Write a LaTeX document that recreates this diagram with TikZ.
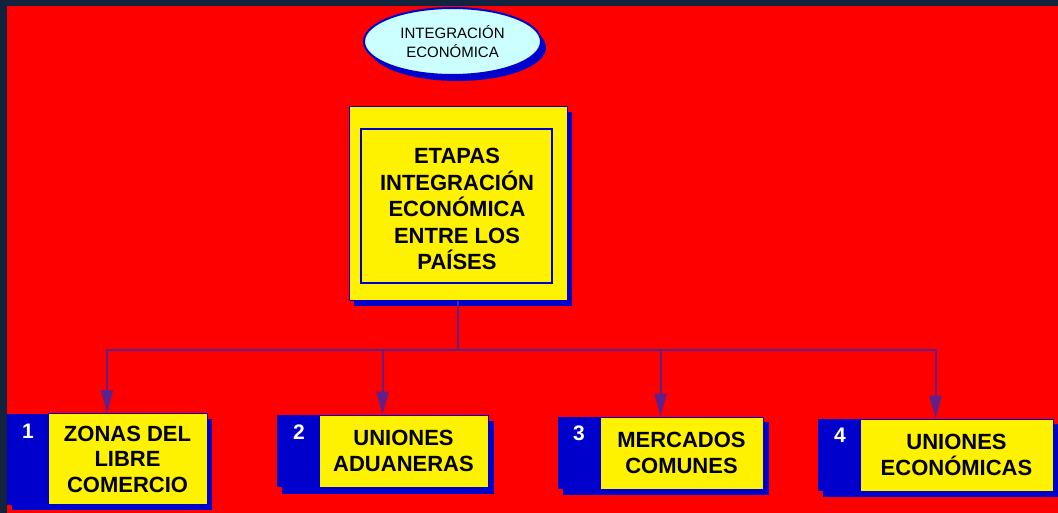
\documentclass[tikz,border=0pt]{standalone}
\usepackage{fontspec}
\setmainfont{Liberation Sans}
\usetikzlibrary{arrows.meta, shapes.geometric}

\definecolor{frame}{RGB}{19,35,62}
\definecolor{boxblue}{RGB}{0,0,204}
\definecolor{lightcyan}{RGB}{204,255,255}
\definecolor{linkpurple}{RGB}{96,32,140}

\tikzset{
    yellowbox/.style={draw=boxblue, line width=1pt, fill=yellow, inner sep=0pt, align=center, font=\bfseries\fontsize{22}{25.5}\selectfont},
    tabbox/.style={fill=boxblue, inner sep=0pt},
    numlabel/.style={text=white, font=\bfseries\fontsize{21}{25}\selectfont},
    link/.style={linkpurple, line width=2pt, -{Triangle[length=23pt, width=12pt]}}
}

\begin{document}
\begin{tikzpicture}[thick, x=1pt, y=-1pt]
    \useasboundingbox (0,0) rectangle (1058,513);
    \fill[frame] (0,0) rectangle (1058,513); % border
    \fill[red] (7,6) rectangle (1058,513); % background

    \coordinate (E) at (452.5,41.5);
    \coordinate (M) at (458,203.5);
    \coordinate (bus) at (458,350);

    % top ellipse
    \fill[boxblue] (457.5,47.5) ellipse (88.5 and 33.5); % shadow
    \node[ellipse, draw=boxblue, line width=2pt, fill=lightcyan, minimum width=177, minimum height=67, inner sep=0pt, align=center, font=\fontsize{15}{19.5}\selectfont] (integ) at (E) {INTEGRACIÓN\\ECONÓMICA};

    % main box
    \fill[boxblue] (354,112) rectangle (572,306); % shadow
    \node[yellowbox, minimum width=218, minimum height=193] (etapas) at (M) {};
    \draw[boxblue, line width=1.2pt] (361,129) rectangle (552,283); % inner frame
    \node[align=center, font=\bfseries\fontsize{22}{26.5}\selectfont] (etapastext) at (457,209) {ETAPAS\\INTEGRACIÓN\\ECONÓMICA\\ENTRE LOS\\PAÍSES};

    % stage boxes
    \fill[boxblue] (12,419) rectangle (212,510); % shadow 1
    \fill[boxblue] (282,421) rectangle (494,494); % shadow 2
    \fill[boxblue] (563,422) rectangle (769,495); % shadow 3
    \fill[boxblue] (823,424) rectangle (1058,497); % shadow 4

    \node[tabbox, minimum width=200, minimum height=91] (z1) at (107,459) {};
    \node[tabbox, minimum width=211, minimum height=72] (z2) at (382.5,451) {};
    \node[tabbox, minimum width=205, minimum height=72] (z3) at (660.5,453) {};
    \node[tabbox, minimum width=235, minimum height=72] (z4) at (935.5,455) {};

    \node[yellowbox, minimum width=159, minimum height=91] (y1) at (127.5,459) {ZONAS DEL\\LIBRE\\COMERCIO};
    \node[yellowbox, minimum width=169, minimum height=72] (y2) at (403.5,451) {UNIONES\\ADUANERAS};
    \node[yellowbox, minimum width=163, minimum height=72] (y3) at (681.5,453) {MERCADOS\\COMUNES};
    \node[yellowbox, minimum width=193, minimum height=72] (y4) at (956.5,455) {UNIONES\\ECONÓMICAS};

    \node[numlabel] (n1) at (28,431) {1};
    \node[numlabel] (n2) at (299,432) {2};
    \node[numlabel] (n3) at (579,433) {3};
    \node[numlabel] (n4) at (840,435) {4};

    % connectors
    \draw[linkpurple, line width=2pt] (etapas.south) -- (bus);
    \foreach \k in {1,...,4}
        \draw[link] (bus) -| (z\k.north);
\end{tikzpicture}
\end{document}
